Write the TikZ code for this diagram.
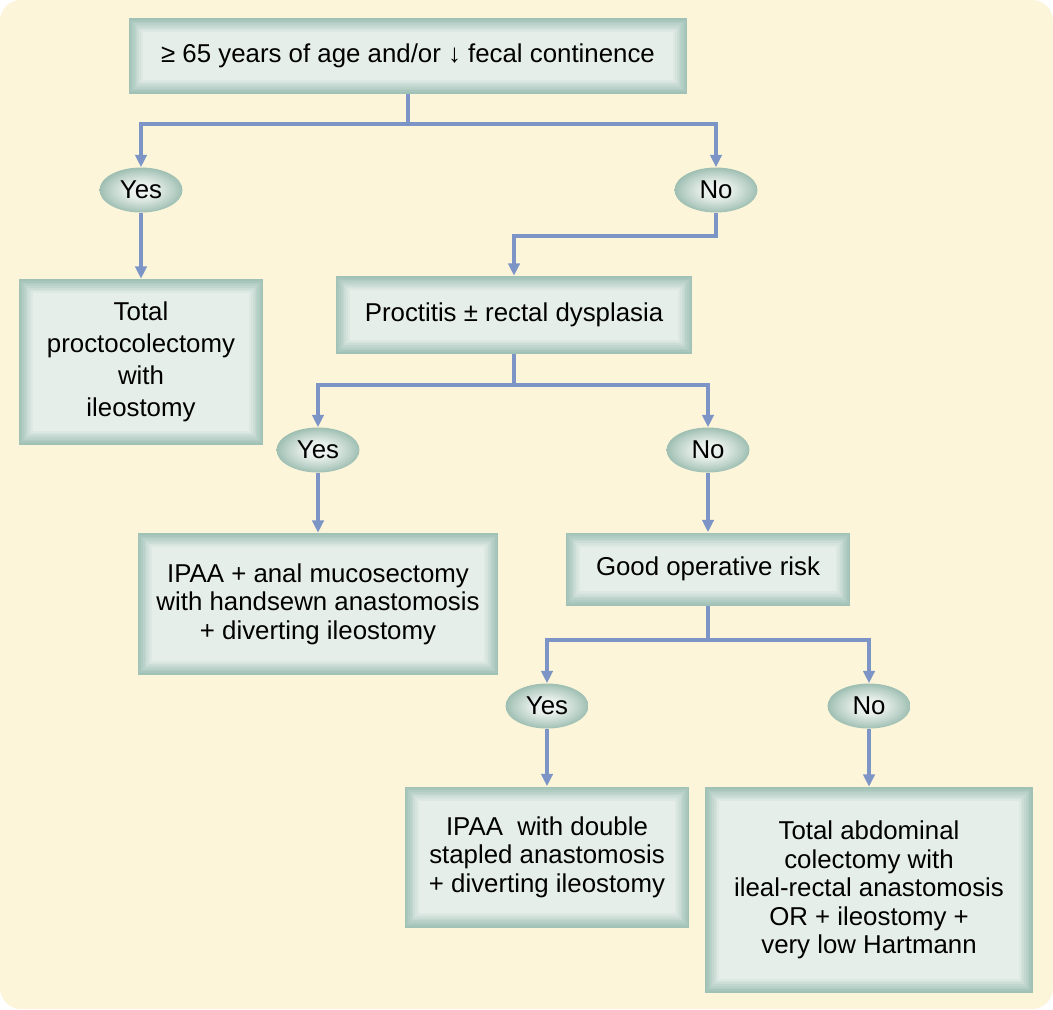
\documentclass[tikz,border=0pt]{standalone}
\usepackage{fontspec}
\setmainfont{Liberation Sans}
\usetikzlibrary{arrows.meta, shapes.geometric}
\definecolor{cpaper}{HTML}{FCF5D9}
\definecolor{cedge}{HTML}{9FC1B6}
\definecolor{cinner}{HTML}{E6EEEA}
\definecolor{coval}{HTML}{9EBEB2}
\definecolor{carrow}{HTML}{7D95C6}
\pgfdeclareradialshading{ovalglow}{\pgfpoint{0bp}{0bp}}{color(0bp)=(cinner!50!white); color(9bp)=(cinner); color(20bp)=(coval!65!cinner); color(25bp)=(coval); color(50bp)=(coval)}
\tikzset{
  box/.style={rectangle, fill=cedge, inner sep=0pt, align=center,
    font=\fontsize{14.7}{16.2}\selectfont,
    path picture={
      \foreach \k in {1,...,8} {
        \pgfmathtruncatemacro\pct{\k*12.5}
        \fill[cinner!\pct!cedge] ([shift={(\k pt,\k pt)}]path picture bounding box.south west)
          rectangle ([shift={(-\k pt,-\k pt)}]path picture bounding box.north east);
      }
    }},
  oval/.style={ellipse, shading=ovalglow, minimum width=1.66cm, minimum height=0.9cm,
    inner sep=0pt, font=\fontsize{14.7}{16.2}\selectfont},
  link/.style={draw=carrow, line width=2.2pt},
  arrow/.style={link, -{Triangle[length=7pt, width=6.5pt]}},
}

\begin{document}
\begin{tikzpicture}[x=0.02cm, y=-0.02cm]
  % paper
  \useasboundingbox (0,0) rectangle (1053,1009);
  \fill[white] (0,0) rectangle (1053,1009);
  \fill[cpaper, rounded corners=12pt] (0,0) rectangle (1053,1009);
  % boxes and answers
  \node[box, minimum width=11.18cm, minimum height=1.52cm] (age) at (408,56) {≥ 65 years of age and/or ↓ fecal continence};
  \node[oval] (yes1) at (141,190) {Yes};
  \node[oval] (no1) at (716,190) {No};
  \node[box, minimum width=4.9cm, minimum height=3.32cm] (tpc) at (141,362) {Total\\[2pt]proctocolectomy\\[2pt]with\\[2pt]ileostomy};
  \node[box, minimum width=7.14cm, minimum height=1.56cm] (proc) at (514,315) {Proctitis ± rectal dysplasia};
  \node[oval] (yes2) at (318,450) {Yes};
  \node[oval] (no2) at (708,450) {No};
  \node[box, minimum width=7.22cm, minimum height=2.84cm] (mucos) at (318,604) {IPAA + anal mucosectomy\\with handsewn anastomosis\\+ diverting ileostomy};
  \node[box, minimum width=5.7cm, minimum height=1.46cm] (risk) at (708,569) {Good operative risk};
  \node[oval] (yes3) at (547,706) {Yes};
  \node[oval] (no3) at (869,706) {No};
  \node[box, minimum width=5.7cm, minimum height=2.82cm] (stapled) at (547,857) {IPAA\ \ with double\\stapled anastomosis\\+ diverting ileostomy};
  \node[box, minimum width=6.56cm, minimum height=4.12cm] (tac) at (869,890) {Total abdominal\\colectomy with\\ileal-rectal anastomosis\\OR + ileostomy +\\very low Hartmann};
  % connectors
  \coordinate (s1) at (408,124);
  \coordinate (s2) at (514,236);
  \coordinate (s3) at (514,385);
  \coordinate (s4) at (708,640);
  \draw[link] (age.south) -- (s1);
  \draw[arrow] (s1) -| (yes1);
  \draw[arrow] (s1) -| (no1);
  \draw[arrow] (yes1) -- (tpc);
  \draw[arrow] (no1.south) |- (s2) -- (proc.north);
  \draw[link] (proc.south) -- (s3);
  \draw[arrow] (s3) -| (yes2);
  \draw[arrow] (s3) -| (no2);
  \draw[arrow] (yes2) -- (mucos);
  \draw[arrow] (no2) -- (risk);
  \draw[link] (risk.south) -- (s4);
  \draw[arrow] (s4) -| (yes3);
  \draw[arrow] (s4) -| (no3);
  \draw[arrow] (yes3) -- (stapled);
  \draw[arrow] (no3) -- (tac);
\end{tikzpicture}
\end{document}
